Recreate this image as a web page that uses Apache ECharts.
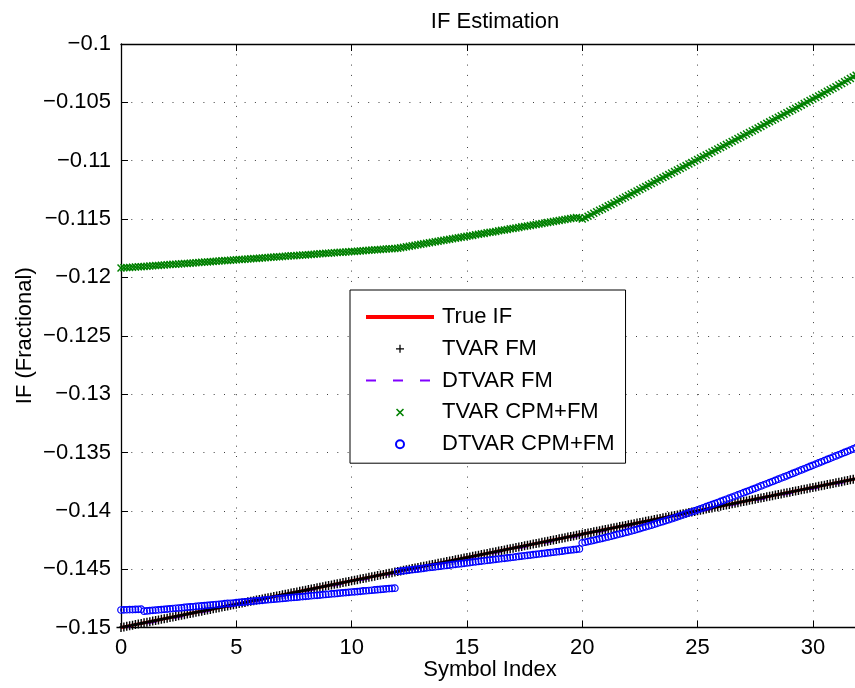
<!DOCTYPE html>
<html>
<head>
<meta charset="utf-8">
<title>IF Estimation</title>
<script src="https://cdn.jsdelivr.net/npm/echarts@6/dist/echarts.min.js"></script>
<style>
  html, body { margin: 0; padding: 0; background: #fff; }
  #chart { width: 855px; height: 688px; }
</style>
</head>
<body>
<div id="chart"></div>
<script>
// Sampling grid: eight samples per symbol, symbols 0..32
const symbolIndex = Array.from({ length: 257 }, (_, k) => k / 8);

const seriesNames = ['True IF', 'TVAR FM', 'DTVAR FM', 'TVAR CPM+FM', 'DTVAR CPM+FM'];

// Instantaneous frequency (fractional), one row per symbol
const trueIF = [
  -0.15000, -0.14995, -0.14990, -0.14985, -0.14980, -0.14975, -0.14970, -0.14965,
  -0.14960, -0.14955, -0.14950, -0.14945, -0.14940, -0.14935, -0.14930, -0.14925,
  -0.14920, -0.14915, -0.14910, -0.14905, -0.14900, -0.14895, -0.14890, -0.14885,
  -0.14880, -0.14875, -0.14870, -0.14865, -0.14860, -0.14855, -0.14850, -0.14845,
  -0.14840, -0.14835, -0.14830, -0.14825, -0.14820, -0.14815, -0.14810, -0.14805,
  -0.14800, -0.14795, -0.14790, -0.14785, -0.14780, -0.14775, -0.14770, -0.14765,
  -0.14760, -0.14755, -0.14750, -0.14745, -0.14740, -0.14735, -0.14730, -0.14725,
  -0.14720, -0.14715, -0.14710, -0.14705, -0.14700, -0.14695, -0.14690, -0.14685,
  -0.14680, -0.14675, -0.14670, -0.14665, -0.14660, -0.14655, -0.14650, -0.14645,
  -0.14640, -0.14635, -0.14630, -0.14625, -0.14620, -0.14615, -0.14610, -0.14605,
  -0.14600, -0.14595, -0.14590, -0.14585, -0.14580, -0.14575, -0.14570, -0.14565,
  -0.14560, -0.14555, -0.14550, -0.14545, -0.14540, -0.14535, -0.14530, -0.14525,
  -0.14520, -0.14515, -0.14510, -0.14505, -0.14500, -0.14495, -0.14490, -0.14485,
  -0.14480, -0.14475, -0.14470, -0.14465, -0.14460, -0.14455, -0.14450, -0.14445,
  -0.14440, -0.14435, -0.14430, -0.14425, -0.14420, -0.14415, -0.14410, -0.14405,
  -0.14400, -0.14395, -0.14390, -0.14385, -0.14380, -0.14375, -0.14370, -0.14365,
  -0.14360, -0.14355, -0.14350, -0.14345, -0.14340, -0.14335, -0.14330, -0.14325,
  -0.14320, -0.14315, -0.14310, -0.14305, -0.14300, -0.14295, -0.14290, -0.14285,
  -0.14280, -0.14275, -0.14270, -0.14265, -0.14260, -0.14255, -0.14250, -0.14245,
  -0.14240, -0.14235, -0.14230, -0.14225, -0.14220, -0.14215, -0.14210, -0.14205,
  -0.14200, -0.14195, -0.14190, -0.14185, -0.14180, -0.14175, -0.14170, -0.14165,
  -0.14160, -0.14155, -0.14150, -0.14145, -0.14140, -0.14135, -0.14130, -0.14125,
  -0.14120, -0.14115, -0.14110, -0.14105, -0.14100, -0.14095, -0.14090, -0.14085,
  -0.14080, -0.14075, -0.14070, -0.14065, -0.14060, -0.14055, -0.14050, -0.14045,
  -0.14040, -0.14035, -0.14030, -0.14025, -0.14020, -0.14015, -0.14010, -0.14005,
  -0.14000, -0.13995, -0.13990, -0.13985, -0.13980, -0.13975, -0.13970, -0.13965,
  -0.13960, -0.13955, -0.13950, -0.13945, -0.13940, -0.13935, -0.13930, -0.13925,
  -0.13920, -0.13915, -0.13910, -0.13905, -0.13900, -0.13895, -0.13890, -0.13885,
  -0.13880, -0.13875, -0.13870, -0.13865, -0.13860, -0.13855, -0.13850, -0.13845,
  -0.13840, -0.13835, -0.13830, -0.13825, -0.13820, -0.13815, -0.13810, -0.13805,
  -0.13800, -0.13795, -0.13790, -0.13785, -0.13780, -0.13775, -0.13770, -0.13765,
  -0.13760, -0.13755, -0.13750, -0.13745, -0.13740, -0.13735, -0.13730, -0.13725,
  -0.13720
];

const tvarFM = [
  -0.15000, -0.14995, -0.14990, -0.14985, -0.14980, -0.14975, -0.14970, -0.14965,
  -0.14960, -0.14955, -0.14950, -0.14945, -0.14940, -0.14935, -0.14930, -0.14925,
  -0.14920, -0.14915, -0.14910, -0.14905, -0.14900, -0.14895, -0.14890, -0.14885,
  -0.14880, -0.14875, -0.14870, -0.14865, -0.14860, -0.14855, -0.14850, -0.14845,
  -0.14840, -0.14835, -0.14830, -0.14825, -0.14820, -0.14815, -0.14810, -0.14805,
  -0.14800, -0.14795, -0.14790, -0.14785, -0.14780, -0.14775, -0.14770, -0.14765,
  -0.14760, -0.14755, -0.14750, -0.14745, -0.14740, -0.14735, -0.14730, -0.14725,
  -0.14720, -0.14715, -0.14710, -0.14705, -0.14700, -0.14695, -0.14690, -0.14685,
  -0.14680, -0.14675, -0.14670, -0.14665, -0.14660, -0.14655, -0.14650, -0.14645,
  -0.14640, -0.14635, -0.14630, -0.14625, -0.14620, -0.14615, -0.14610, -0.14605,
  -0.14600, -0.14595, -0.14590, -0.14585, -0.14580, -0.14575, -0.14570, -0.14565,
  -0.14560, -0.14555, -0.14550, -0.14545, -0.14540, -0.14535, -0.14530, -0.14525,
  -0.14520, -0.14515, -0.14510, -0.14505, -0.14500, -0.14495, -0.14490, -0.14485,
  -0.14480, -0.14475, -0.14470, -0.14465, -0.14460, -0.14455, -0.14450, -0.14445,
  -0.14440, -0.14435, -0.14430, -0.14425, -0.14420, -0.14415, -0.14410, -0.14405,
  -0.14400, -0.14395, -0.14390, -0.14385, -0.14380, -0.14375, -0.14370, -0.14365,
  -0.14360, -0.14355, -0.14350, -0.14345, -0.14340, -0.14335, -0.14330, -0.14325,
  -0.14320, -0.14315, -0.14310, -0.14305, -0.14300, -0.14295, -0.14290, -0.14285,
  -0.14280, -0.14275, -0.14270, -0.14265, -0.14260, -0.14255, -0.14250, -0.14245,
  -0.14240, -0.14235, -0.14230, -0.14225, -0.14220, -0.14215, -0.14210, -0.14205,
  -0.14200, -0.14195, -0.14190, -0.14185, -0.14180, -0.14175, -0.14170, -0.14165,
  -0.14160, -0.14155, -0.14150, -0.14145, -0.14140, -0.14135, -0.14130, -0.14125,
  -0.14120, -0.14115, -0.14110, -0.14105, -0.14100, -0.14095, -0.14090, -0.14085,
  -0.14080, -0.14075, -0.14070, -0.14065, -0.14060, -0.14055, -0.14050, -0.14045,
  -0.14040, -0.14035, -0.14030, -0.14025, -0.14020, -0.14015, -0.14010, -0.14005,
  -0.14000, -0.13995, -0.13990, -0.13985, -0.13980, -0.13975, -0.13970, -0.13965,
  -0.13960, -0.13955, -0.13950, -0.13945, -0.13940, -0.13935, -0.13930, -0.13925,
  -0.13920, -0.13915, -0.13910, -0.13905, -0.13900, -0.13895, -0.13890, -0.13885,
  -0.13880, -0.13875, -0.13870, -0.13865, -0.13860, -0.13855, -0.13850, -0.13845,
  -0.13840, -0.13835, -0.13830, -0.13825, -0.13820, -0.13815, -0.13810, -0.13805,
  -0.13800, -0.13795, -0.13790, -0.13785, -0.13780, -0.13775, -0.13770, -0.13765,
  -0.13760, -0.13755, -0.13750, -0.13745, -0.13740, -0.13735, -0.13730, -0.13725,
  -0.13720
];

const dtvarFM = [
  -0.15015, -0.15010, -0.15005, -0.15000, -0.14995, -0.14990, -0.14985, -0.14980,
  -0.14975, -0.14970, -0.14965, -0.14960, -0.14955, -0.14950, -0.14945, -0.14940,
  -0.14935, -0.14930, -0.14925, -0.14920, -0.14915, -0.14910, -0.14905, -0.14900,
  -0.14895, -0.14890, -0.14885, -0.14880, -0.14875, -0.14870, -0.14865, -0.14860,
  -0.14855, -0.14850, -0.14845, -0.14840, -0.14835, -0.14830, -0.14825, -0.14820,
  -0.14815, -0.14810, -0.14805, -0.14800, -0.14795, -0.14790, -0.14785, -0.14780,
  -0.14775, -0.14770, -0.14765, -0.14760, -0.14755, -0.14750, -0.14745, -0.14740,
  -0.14735, -0.14730, -0.14725, -0.14720, -0.14715, -0.14710, -0.14705, -0.14700,
  -0.14695, -0.14690, -0.14685, -0.14680, -0.14675, -0.14670, -0.14665, -0.14660,
  -0.14655, -0.14650, -0.14645, -0.14640, -0.14635, -0.14630, -0.14625, -0.14620,
  -0.14615, -0.14610, -0.14605, -0.14600, -0.14595, -0.14590, -0.14585, -0.14580,
  -0.14575, -0.14570, -0.14565, -0.14560, -0.14555, -0.14550, -0.14545, -0.14540,
  -0.14535, -0.14530, -0.14525, -0.14520, -0.14515, -0.14510, -0.14505, -0.14500,
  -0.14495, -0.14490, -0.14485, -0.14480, -0.14475, -0.14470, -0.14465, -0.14460,
  -0.14455, -0.14450, -0.14445, -0.14440, -0.14435, -0.14430, -0.14425, -0.14420,
  -0.14415, -0.14410, -0.14405, -0.14400, -0.14395, -0.14390, -0.14385, -0.14380,
  -0.14375, -0.14370, -0.14365, -0.14360, -0.14355, -0.14350, -0.14345, -0.14340,
  -0.14335, -0.14330, -0.14325, -0.14320, -0.14315, -0.14310, -0.14305, -0.14300,
  -0.14295, -0.14290, -0.14285, -0.14280, -0.14275, -0.14270, -0.14265, -0.14260,
  -0.14255, -0.14250, -0.14245, -0.14240, -0.14235, -0.14230, -0.14225, -0.14220,
  -0.14215, -0.14210, -0.14205, -0.14200, -0.14195, -0.14190, -0.14185, -0.14180,
  -0.14175, -0.14170, -0.14165, -0.14160, -0.14155, -0.14150, -0.14145, -0.14140,
  -0.14135, -0.14130, -0.14125, -0.14120, -0.14115, -0.14110, -0.14105, -0.14100,
  -0.14095, -0.14090, -0.14085, -0.14080, -0.14075, -0.14070, -0.14065, -0.14060,
  -0.14055, -0.14050, -0.14045, -0.14040, -0.14035, -0.14030, -0.14025, -0.14020,
  -0.14015, -0.14010, -0.14005, -0.14000, -0.13995, -0.13990, -0.13985, -0.13980,
  -0.13975, -0.13970, -0.13965, -0.13960, -0.13955, -0.13950, -0.13945, -0.13940,
  -0.13935, -0.13930, -0.13925, -0.13920, -0.13915, -0.13910, -0.13905, -0.13900,
  -0.13895, -0.13890, -0.13885, -0.13880, -0.13875, -0.13870, -0.13865, -0.13860,
  -0.13855, -0.13850, -0.13845, -0.13840, -0.13835, -0.13830, -0.13825, -0.13820,
  -0.13815, -0.13810, -0.13805, -0.13800, -0.13795, -0.13790, -0.13785, -0.13780,
  -0.13775, -0.13770, -0.13765, -0.13760, -0.13755, -0.13750, -0.13745, -0.13740,
  -0.13735
];

const tvarCpmFM = [
  -0.11920, -0.11918, -0.11916, -0.11915, -0.11913, -0.11911, -0.11909, -0.11908,
  -0.11906, -0.11904, -0.11902, -0.11901, -0.11899, -0.11897, -0.11895, -0.11894,
  -0.11892, -0.11890, -0.11888, -0.11887, -0.11885, -0.11883, -0.11881, -0.11880,
  -0.11878, -0.11876, -0.11874, -0.11872, -0.11870, -0.11869, -0.11867, -0.11865,
  -0.11863, -0.11862, -0.11860, -0.11858, -0.11856, -0.11855, -0.11853, -0.11851,
  -0.11849, -0.11847, -0.11846, -0.11844, -0.11842, -0.11840, -0.11839, -0.11837,
  -0.11835, -0.11833, -0.11831, -0.11830, -0.11828, -0.11826, -0.11824, -0.11823,
  -0.11821, -0.11819, -0.11817, -0.11815, -0.11814, -0.11812, -0.11810, -0.11808,
  -0.11807, -0.11805, -0.11803, -0.11801, -0.11800, -0.11798, -0.11796, -0.11794,
  -0.11793, -0.11791, -0.11789, -0.11787, -0.11785, -0.11784, -0.11782, -0.11780,
  -0.11778, -0.11777, -0.11775, -0.11773, -0.11771, -0.11770, -0.11768, -0.11766,
  -0.11764, -0.11762, -0.11761, -0.11759, -0.11757, -0.11755, -0.11754, -0.11752,
  -0.11750, -0.11746, -0.11742, -0.11737, -0.11733, -0.11729, -0.11725, -0.11720,
  -0.11716, -0.11712, -0.11708, -0.11703, -0.11699, -0.11695, -0.11691, -0.11686,
  -0.11682, -0.11678, -0.11674, -0.11669, -0.11665, -0.11661, -0.11657, -0.11652,
  -0.11648, -0.11644, -0.11640, -0.11635, -0.11631, -0.11627, -0.11623, -0.11618,
  -0.11614, -0.11610, -0.11606, -0.11601, -0.11597, -0.11593, -0.11589, -0.11584,
  -0.11580, -0.11576, -0.11572, -0.11567, -0.11563, -0.11559, -0.11555, -0.11550,
  -0.11546, -0.11542, -0.11538, -0.11533, -0.11529, -0.11525, -0.11521, -0.11516,
  -0.11512, -0.11508, -0.11504, -0.11499, -0.11495, -0.11491, -0.11487, -0.11490,
  -0.11500, -0.11488, -0.11475, -0.11463, -0.11450, -0.11438, -0.11425, -0.11413,
  -0.11400, -0.11387, -0.11375, -0.11362, -0.11349, -0.11336, -0.11324, -0.11311,
  -0.11298, -0.11285, -0.11273, -0.11260, -0.11247, -0.11234, -0.11222, -0.11209,
  -0.11196, -0.11183, -0.11170, -0.11157, -0.11145, -0.11132, -0.11119, -0.11106,
  -0.11093, -0.11080, -0.11067, -0.11054, -0.11042, -0.11029, -0.11016, -0.11003,
  -0.10990, -0.10977, -0.10964, -0.10951, -0.10939, -0.10926, -0.10913, -0.10900,
  -0.10887, -0.10874, -0.10861, -0.10848, -0.10836, -0.10823, -0.10810, -0.10797,
  -0.10784, -0.10771, -0.10758, -0.10745, -0.10732, -0.10719, -0.10706, -0.10693,
  -0.10680, -0.10667, -0.10654, -0.10641, -0.10628, -0.10615, -0.10602, -0.10589,
  -0.10576, -0.10563, -0.10550, -0.10537, -0.10524, -0.10510, -0.10497, -0.10484,
  -0.10471, -0.10458, -0.10445, -0.10432, -0.10419, -0.10405, -0.10392, -0.10379,
  -0.10366, -0.10352, -0.10338, -0.10324, -0.10310, -0.10296, -0.10282, -0.10268,
  -0.10254
];

const dtvarCpmFM = [
  -0.14850, -0.14849, -0.14848, -0.14847, -0.14846, -0.14845, -0.14844, -0.14843,
  -0.14860, -0.14858, -0.14855, -0.14853, -0.14851, -0.14849, -0.14846, -0.14844,
  -0.14842, -0.14840, -0.14837, -0.14835, -0.14833, -0.14831, -0.14828, -0.14826,
  -0.14824, -0.14822, -0.14819, -0.14817, -0.14815, -0.14812, -0.14810, -0.14808,
  -0.14805, -0.14803, -0.14801, -0.14799, -0.14796, -0.14794, -0.14792, -0.14790,
  -0.14787, -0.14785, -0.14783, -0.14781, -0.14778, -0.14776, -0.14774, -0.14771,
  -0.14769, -0.14767, -0.14764, -0.14762, -0.14760, -0.14758, -0.14755, -0.14753,
  -0.14751, -0.14749, -0.14746, -0.14744, -0.14742, -0.14740, -0.14737, -0.14735,
  -0.14733, -0.14731, -0.14728, -0.14726, -0.14724, -0.14722, -0.14719, -0.14717,
  -0.14715, -0.14712, -0.14710, -0.14708, -0.14705, -0.14703, -0.14701, -0.14699,
  -0.14696, -0.14694, -0.14692, -0.14690, -0.14687, -0.14685, -0.14683, -0.14681,
  -0.14678, -0.14676, -0.14674, -0.14672, -0.14669, -0.14667, -0.14665, -0.14663,
  -0.14520, -0.14517, -0.14514, -0.14511, -0.14508, -0.14505, -0.14502, -0.14499,
  -0.14496, -0.14493, -0.14489, -0.14486, -0.14483, -0.14480, -0.14477, -0.14474,
  -0.14471, -0.14468, -0.14465, -0.14462, -0.14459, -0.14456, -0.14453, -0.14450,
  -0.14447, -0.14444, -0.14440, -0.14437, -0.14434, -0.14431, -0.14428, -0.14425,
  -0.14422, -0.14419, -0.14416, -0.14413, -0.14410, -0.14407, -0.14404, -0.14401,
  -0.14398, -0.14395, -0.14391, -0.14388, -0.14385, -0.14382, -0.14379, -0.14376,
  -0.14373, -0.14370, -0.14367, -0.14364, -0.14361, -0.14358, -0.14355, -0.14352,
  -0.14349, -0.14346, -0.14342, -0.14339, -0.14336, -0.14333, -0.14330, -0.14327,
  -0.14275, -0.14269, -0.14264, -0.14258, -0.14253, -0.14247, -0.14241, -0.14236,
  -0.14230, -0.14224, -0.14218, -0.14211, -0.14205, -0.14199, -0.14193, -0.14186,
  -0.14180, -0.14173, -0.14166, -0.14159, -0.14152, -0.14144, -0.14137, -0.14130,
  -0.14123, -0.14115, -0.14107, -0.14099, -0.14092, -0.14084, -0.14076, -0.14068,
  -0.14060, -0.14052, -0.14043, -0.14035, -0.14026, -0.14018, -0.14009, -0.14001,
  -0.13992, -0.13983, -0.13974, -0.13965, -0.13956, -0.13947, -0.13938, -0.13929,
  -0.13920, -0.13911, -0.13901, -0.13892, -0.13883, -0.13873, -0.13864, -0.13854,
  -0.13845, -0.13835, -0.13826, -0.13816, -0.13807, -0.13797, -0.13787, -0.13778,
  -0.13768, -0.13758, -0.13749, -0.13739, -0.13729, -0.13719, -0.13710, -0.13700,
  -0.13690, -0.13680, -0.13670, -0.13660, -0.13650, -0.13640, -0.13630, -0.13620,
  -0.13610, -0.13600, -0.13590, -0.13580, -0.13570, -0.13560, -0.13550, -0.13540,
  -0.13530, -0.13520, -0.13510, -0.13500, -0.13490, -0.13480, -0.13470, -0.13460,
  -0.13450
];

// Axis ranges and tick steps
const xRange = { min: 0, max: 32, step: 5 };
const yRange = { min: -0.15, max: -0.1, step: 0.005 };

const pairs = ys => ys.map((y, k) => [symbolIndex[k], y]);

const FONT = '"Liberation Sans", Arial, Helvetica, sans-serif';
const PLUS = 'path://M4.2,0H5.8V4.2H10V5.8H5.8V10H4.2V5.8H0V4.2H4.2Z';
const CROSS = 'path://M0,1.3L1.3,0L5,3.7L8.7,0L10,1.3L6.3,5L10,8.7L8.7,10L5,6.3L1.3,10L0,8.7L3.7,5Z';
const dotted = { color: '#404040', width: 1, type: [1, 9.3] };
const axisLine = { show: true, onZero: false, lineStyle: { color: '#000', width: 1.3 } };
const axisTick = { show: true, inside: true, length: 7, lineStyle: { color: '#000', width: 1 } };
const noLine = { width: 0, color: 'rgba(0,0,0,0)' };

// Tick labels with a true minus sign, trailing zeros dropped
const fmtTick = v => {
  const s = Number(v).toFixed(3).replace(/0+$/, '').replace(/\.$/, '');
  return s.replace('-', '\u2212');
};

const chart = echarts.init(document.getElementById('chart'), null, { renderer: 'canvas' });

chart.setOption({
  animation: false,
  backgroundColor: '#fff',
  textStyle: { fontFamily: FONT },
  title: {
    text: 'IF Estimation',
    left: 490,
    top: 6,
    textAlign: 'center',
    textStyle: { fontSize: 22, fontWeight: 'normal', color: '#000', fontFamily: FONT }
  },
  grid: { left: 121, top: 44, width: 738, height: 583.5, containLabel: false, outerBoundsMode: 'none' },
  legend: {
    orient: 'vertical',
    left: 350,
    top: 290,
    padding: [16, 11, 8, 14],
    itemWidth: 68,
    itemHeight: 10,
    itemGap: 9.8,
    backgroundColor: '#fff',
    borderColor: '#000',
    borderWidth: 1,
    borderRadius: 0,
    selectedMode: false,
    textStyle: { fontSize: 22, lineHeight: 22, color: '#000', fontFamily: FONT, padding: [0, 0, 0, 3] },
    data: [
      { name: seriesNames[0], itemStyle: { opacity: 0 }, lineStyle: { width: 4 } },
      { name: seriesNames[1] },
      { name: seriesNames[2], itemStyle: { opacity: 0 } },
      { name: seriesNames[3] },
      { name: seriesNames[4] }
    ]
  },
  xAxis: [
    {
      type: 'value', position: 'bottom',
      min: xRange.min, max: xRange.max, interval: xRange.step,
      name: 'Symbol Index', nameLocation: 'middle', nameGap: 31, nameMoveOverlap: false,
      nameTextStyle: { fontSize: 22, color: '#000', fontFamily: FONT },
      axisLine, axisTick,
      axisLabel: { fontSize: 22, color: '#000', margin: 9, showMaxLabel: false, fontFamily: FONT },
      splitLine: { show: true, lineStyle: dotted }
    },
    {
      type: 'value', position: 'top',
      min: xRange.min, max: xRange.max, interval: xRange.step,
      axisLine, axisTick,
      axisLabel: { show: false },
      splitLine: { show: false }
    }
  ],
  yAxis: [
    {
      type: 'value', position: 'left',
      min: yRange.min, max: yRange.max, interval: yRange.step,
      name: 'IF (Fractional)', nameLocation: 'middle', nameGap: 85, nameRotate: 90, nameMoveOverlap: false,
      nameTextStyle: { fontSize: 22, color: '#000', fontFamily: FONT },
      axisLine, axisTick,
      axisLabel: { fontSize: 22, color: '#000', margin: 10, formatter: fmtTick, fontFamily: FONT },
      splitLine: { show: true, lineStyle: dotted }
    }
  ],
  series: [
    {
      name: seriesNames[0], type: 'line', data: pairs(trueIF),
      symbol: 'none', lineStyle: { color: '#ff0000', width: 3 }, itemStyle: { color: '#ff0000' }
    },
    {
      name: seriesNames[1], type: 'line', data: pairs(tvarFM),
      symbol: PLUS, symbolSize: 9, showSymbol: true, showAllSymbol: true,
      lineStyle: noLine, itemStyle: { color: '#000' }
    },
    {
      name: seriesNames[2], type: 'line', data: pairs(dtvarFM),
      symbol: 'none', lineStyle: { color: '#8000ff', width: 1, type: [10, 17] }, itemStyle: { color: '#8000ff' }
    },
    {
      name: seriesNames[3], type: 'line', data: pairs(tvarCpmFM),
      symbol: CROSS, symbolSize: 8, showSymbol: true, showAllSymbol: true,
      lineStyle: noLine, itemStyle: { color: '#008000' }
    },
    {
      name: seriesNames[4], type: 'line', data: pairs(dtvarCpmFM),
      symbol: 'circle', symbolSize: 6.5, showSymbol: true, showAllSymbol: true,
      lineStyle: noLine, itemStyle: { color: 'rgba(0,0,0,0)', borderColor: '#0000ff', borderWidth: 1.2 }
    }
  ]
});
</script>
</body>
</html>
